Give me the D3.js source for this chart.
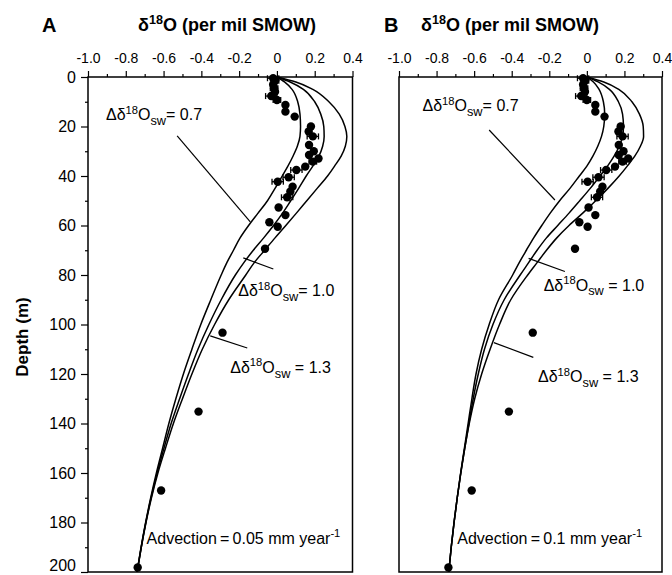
<!DOCTYPE html>
<html>
<head>
<meta charset="utf-8">
<script src="https://cdn.jsdelivr.net/npm/d3@7"></script>
<style>
  body { margin: 0; background: #fff; }
  svg { font-family: "Liberation Sans", Arial, Helvetica, sans-serif; }
  .tick text { fill: #000; }
</style>
</head>
<body>
<div id="chart"></div>
<script>
const depthGrid = [0, 2, 5, 10, 15, 20, 24, 28, 32, 36, 40, 45, 50, 55, 60, 65, 70, 75, 80, 90, 100, 110, 120, 130, 140, 150, 160, 170, 180, 190, 200];

// panel A, advection 0.05 mm/yr
const modelA07 = [0, 0.04, 0.08, 0.11, 0.122, 0.125, 0.122, 0.108, 0.085, 0.058, 0.028, -0.01, -0.05, -0.10, -0.15, -0.195, -0.23, -0.265, -0.295, -0.35, -0.403, -0.45, -0.495, -0.535, -0.572, -0.605, -0.638, -0.668, -0.695, -0.719, -0.74];
const modelA10 = [0, 0.07, 0.14, 0.20, 0.232, 0.248, 0.25, 0.242, 0.222, 0.19, 0.155, 0.115, 0.073, 0.03, -0.018, -0.07, -0.125, -0.175, -0.22, -0.295, -0.36, -0.418, -0.468, -0.515, -0.56, -0.598, -0.634, -0.666, -0.694, -0.718, -0.74];
const modelA13 = [0, 0.10, 0.19, 0.275, 0.33, 0.36, 0.37, 0.362, 0.34, 0.305, 0.268, 0.213, 0.158, 0.103, 0.047, -0.01, -0.065, -0.12, -0.165, -0.255, -0.33, -0.395, -0.45, -0.50, -0.548, -0.59, -0.63, -0.664, -0.693, -0.718, -0.74];

// panel B, advection 0.1 mm/yr
const modelB07 = [0, 0.035, 0.065, 0.088, 0.095, 0.09, 0.078, 0.058, 0.032, 0.0, -0.04, -0.09, -0.145, -0.195, -0.24, -0.283, -0.322, -0.36, -0.395, -0.47, -0.52, -0.56, -0.59, -0.612, -0.632, -0.652, -0.672, -0.69, -0.707, -0.722, -0.735];
const modelB10 = [0, 0.06, 0.12, 0.168, 0.19, 0.195, 0.19, 0.172, 0.145, 0.11, 0.07, 0.018, -0.038, -0.095, -0.155, -0.215, -0.265, -0.31, -0.355, -0.44, -0.50, -0.545, -0.578, -0.605, -0.628, -0.65, -0.671, -0.69, -0.707, -0.722, -0.735];
const modelB13 = [0, 0.09, 0.17, 0.24, 0.28, 0.30, 0.302, 0.285, 0.255, 0.215, 0.172, 0.112, 0.047, -0.022, -0.095, -0.16, -0.215, -0.265, -0.315, -0.405, -0.465, -0.515, -0.56, -0.597, -0.626, -0.65, -0.671, -0.69, -0.707, -0.722, -0.735];

// measured profile (same in both panels)
const obsDepth = [0.5, 1.5, 3, 4.5, 6, 7.7, 9.3, 11.3, 14, 16, 20, 22, 24, 27.5, 30, 31.5, 32.9, 34.2, 36.2, 37.6, 40.5, 42.3, 44.3, 46.3, 48.6, 52.7, 55.8, 58.7, 60.5, 69.4, 103.3, 135.2, 167.1, 198.2];
const obsD18O  = [-0.02, -0.01, -0.02, -0.015, -0.01, -0.03, 0.0, 0.045, 0.045, 0.094, 0.18, 0.168, 0.19, 0.17, 0.195, 0.17, 0.22, 0.19, 0.15, 0.103, 0.062, 0.004, 0.083, 0.071, 0.054, 0.009, 0.045, -0.04, 0.004, -0.063, -0.288, -0.415, -0.613, -0.737];
const obsErr   = [0.03, 0.02, 0, 0.02, 0, 0.03, 0.02, 0, 0, 0, 0, 0, 0.03, 0, 0, 0, 0, 0.02, 0, 0.03, 0.03, 0.03, 0, 0, 0.03, 0, 0, 0, 0, 0, 0, 0, 0, 0];

const xTicks = [-1.0, -0.8, -0.6, -0.4, -0.2, 0, 0.2, 0.4];
const xMinor = [-0.9, -0.7, -0.5, -0.3, -0.1, 0.1, 0.3];
const yTicks = [0, 20, 40, 60, 80, 100, 120, 140, 160, 180, 200];
const yMinor = [10, 30, 50, 70, 90, 110, 130, 150, 170, 190];

const modelLabels = ["0.7", "1.0", "1.3"];
const advectionA = "0.05";
const advectionB = "0.1";

const width = 672, height = 575;
const svg = d3.select("#chart").append("svg")
  .attr("width", width).attr("height", height);

const y = d3.scaleLinear().domain([0, 200]).range([77, 572]);

const obs = obsDepth.map((d, i) => ({ d: d, v: obsD18O[i], e: obsErr[i] }));

// text with super/subscripts
function rich(g, x, yy, parts, size) {
  const t = g.append("text").attr("x", x).attr("y", yy)
    .attr("font-size", size).attr("fill", "#000");
  let shift = 0;
  parts.forEach(p => {
    let target = 0, fs = size;
    if (p.sup) { target = -size * 0.4; fs = size * 0.7; }
    if (p.sub) { target = size * 0.3; fs = size * 0.8; }
    t.append("tspan").attr("dy", target - shift).attr("font-size", fs).text(p.t);
    shift = target;
  });
  return t;
}

function dLabel(val, gap) {
  return [{ t: "\u0394\u03b4" }, { t: "18", sup: true }, { t: "O" }, { t: "sw", sub: true }, { t: (gap ? " " : "") + "= " + val }];
}

function panel(x0, x1, head, models, adv, notes, showY) {
  const x = d3.scaleLinear().domain([-1, 0.4]).range([x0, x1]);
  const g = svg.append("g");

  // top axis
  g.append("g").attr("transform", `translate(0,${y(0)})`)
    .call(d3.axisTop(x).tickValues(xMinor).tickSize(3).tickFormat(""))
    .call(a => a.select(".domain").remove());
  g.append("g").attr("transform", `translate(0,${y(0)})`)
    .call(d3.axisTop(x).tickValues(xTicks).tickSize(6).tickPadding(8)
      .tickFormat(d => d === 0 ? "0" : d.toFixed(1)))
    .call(a => a.select(".domain").remove())
    .call(a => a.selectAll("text").attr("font-size", 14).attr("font-family", "Liberation Sans, Arial, sans-serif"));

  if (showY) {
    g.append("g").attr("transform", `translate(${x0},0)`)
      .call(d3.axisLeft(y).tickValues(yMinor).tickSize(3).tickFormat(""))
      .call(a => a.select(".domain").remove());
    g.append("g").attr("transform", `translate(${x0},0)`)
      .call(d3.axisLeft(y).tickValues(yTicks).tickSize(7).tickPadding(5))
      .call(a => a.select(".domain").remove())
      .call(a => a.selectAll("text").attr("font-size", 16).attr("font-family", "Liberation Sans, Arial, sans-serif"))
      .call(a => a.selectAll(".tick").filter(d => d === 200).select("text").attr("dy", "-0.12em"));
  }
  g.selectAll(".tick line").attr("stroke", "#000").attr("stroke-width", 1.2);

  // frame
  g.append("rect").attr("x", x0).attr("y", y(0))
    .attr("width", x1 - x0).attr("height", y(200) - y(0))
    .attr("fill", "none").attr("stroke", "#000").attr("stroke-width", 1.5);

  // model curves
  const line = d3.line().x(p => x(p[1])).y(p => y(p[0])).curve(d3.curveMonotoneY);
  models.forEach(m => {
    g.append("path").datum(depthGrid.map((d, i) => [d, m[i]]))
      .attr("d", line).attr("fill", "none").attr("stroke", "#000").attr("stroke-width", 1.5);
  });

  // error bars
  const eb = g.append("g").attr("stroke", "#000").attr("stroke-width", 1.3);
  obs.filter(o => o.e > 0).forEach(o => {
    eb.append("line").attr("x1", x(o.v - o.e)).attr("x2", x(o.v + o.e)).attr("y1", y(o.d)).attr("y2", y(o.d));
    [o.v - o.e, o.v + o.e].forEach(v => eb.append("line")
      .attr("x1", x(v)).attr("x2", x(v)).attr("y1", y(o.d) - 3).attr("y2", y(o.d) + 3));
  });
  g.selectAll("circle.obs").data(obs).join("circle").attr("class", "obs")
    .attr("cx", o => x(o.v)).attr("cy", o => y(o.d)).attr("r", 4.2).attr("fill", "#000");

  // annotations (leader line endpoints given as [value, depth])
  notes.forEach((n, i) => {
    g.append("line").attr("x1", x(n.from[0])).attr("y1", y(n.from[1]))
      .attr("x2", x(n.to[0])).attr("y2", y(n.to[1]))
      .attr("stroke", "#000").attr("stroke-width", 1.2);
    rich(g, x(n.at[0]), y(n.at[1]), dLabel(modelLabels[i], n.gap), 16);
  });
  rich(g, x(-0.69), y(188.5), [{ t: "Advection\u2009=\u20090." + adv.slice(2) + " mm year" }, { t: "-1", sup: true }], 16);

  // headings
  svg.append("text").attr("x", head.letterX).attr("y", 32).attr("font-size", 20)
    .attr("font-weight", "bold").text(head.letter);
  rich(svg, head.titleX, 31, [{ t: "\u03b4" }, { t: "18", sup: true }, { t: "O (per mil SMOW)" }], 18)
    .attr("font-weight", "bold");
}

panel(88, 352.5, { letter: "A", letterX: 42, titleX: 138 }, [modelA07, modelA10, modelA13], advectionA, [
  { at: [-0.905, 17.5], from: [-0.528, 23.8], to: [-0.141, 58.5], gap: false },
  { at: [-0.205, 88.5], from: [-0.019, 77.6], to: [-0.178, 73.1], gap: false },
  { at: [-0.247, 119.5], from: [-0.157, 109.5], to: [-0.353, 104.6], gap: true }
], true);

panel(399, 662, { letter: "B", letterX: 384, titleX: 421 }, [modelB07, modelB10, modelB13], advectionB, [
  { at: [-0.875, 13.7], from: [-0.52, 21.4], to: [-0.17, 49.7], gap: false },
  { at: [-0.23, 86.3], from: [-0.117, 78.6], to: [-0.31, 73.3], gap: true },
  { at: [-0.26, 123.2], from: [-0.285, 113.3], to: [-0.495, 107.3], gap: true }
], false);

// y axis title
svg.append("text").attr("transform", "translate(28,337) rotate(-90)")
  .attr("text-anchor", "middle").attr("font-size", 17).attr("font-weight", "bold")
  .text("Depth (m)");
</script>
</body>
</html>
